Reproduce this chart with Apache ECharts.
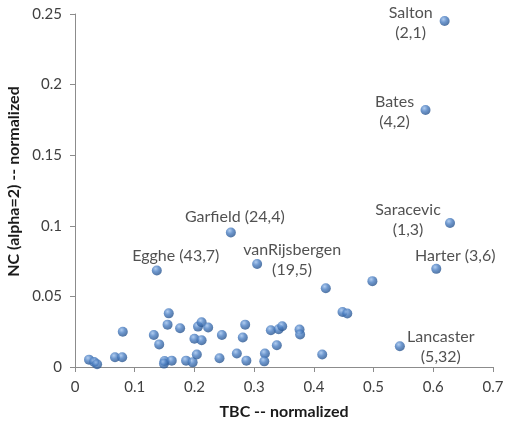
<!DOCTYPE html>
<html>
<head>
<meta charset="utf-8">
<script src="https://cdn.jsdelivr.net/npm/echarts@6/dist/echarts.min.js"></script>
<style>
  html, body { margin: 0; padding: 0; background: #fff; }
  #chart { width: 506px; height: 423px; }
</style>
</head>
<body>
<div id="chart"></div>
<script>
// unlabeled authors: TBC (x) and NC (y), both normalized
const tbc = [0.0235, 0.032, 0.037, 0.067, 0.079, 0.080, 0.132, 0.141, 0.157, 0.155,
  0.176, 0.150, 0.149, 0.162, 0.186, 0.197, 0.204, 0.200, 0.212, 0.206,
  0.212, 0.223, 0.246, 0.242, 0.271, 0.281, 0.285, 0.287, 0.318, 0.317,
  0.328, 0.341, 0.347, 0.338, 0.376, 0.377, 0.414, 0.420, 0.498, 0.448, 0.456];
const nc = [0.0052, 0.0035, 0.002, 0.0069, 0.0069, 0.025, 0.0227, 0.016, 0.038, 0.030,
  0.0275, 0.0043, 0.0024, 0.0045, 0.0045, 0.0033, 0.0088, 0.020, 0.019, 0.0286,
  0.0317, 0.028, 0.0227, 0.0062, 0.0095, 0.0209, 0.030, 0.0045, 0.0095, 0.004,
  0.026, 0.0267, 0.0289, 0.0154, 0.0265, 0.023, 0.0088, 0.0558, 0.0608, 0.039, 0.0379];

// named authors
const names = ['Salton', 'Bates', 'Saracevic', 'Harter', 'Garfield', 'Egghe', 'vanRijsbergen', 'Lancaster'];
const ranks = ['(2,1)', '(4,2)', '(1,3)', '(3,6)', '(24,4)', '(43,7)', '(19,5)', '(5,32)'];
const namedTbc = [0.619, 0.587, 0.628, 0.605, 0.261, 0.137, 0.305, 0.544];
const namedNc = [0.245, 0.182, 0.102, 0.0695, 0.0953, 0.0684, 0.073, 0.0147];

// label layout (pixels, relative to the marker) and whether the rank goes on a new line
const labelOffset = [[-34, 2], [-31, 2], [-42, -3], [19, -13], [4, -16], [19, -15], [35, -4], [41, 1]];
const twoLines = [true, true, true, false, false, false, true, true];

const ball = {
  type: 'radial', x: 0.38, y: 0.32, r: 0.7,
  colorStops: [
    { offset: 0, color: '#9dc0ec' },
    { offset: 0.45, color: '#4a7ec2' },
    { offset: 1, color: '#26528c' }
  ]
};

const plain = tbc.map((x, i) => [x, nc[i]]);
const named = names.map((n, i) => ({
  value: [namedTbc[i], namedNc[i]],
  label: {
    show: true,
    position: 'inside',
    align: 'center',
    verticalAlign: 'middle',
    offset: labelOffset[i],
    formatter: n + (twoLines[i] ? '\n' : ' ') + ranks[i]
  }
}));

const chart = echarts.init(document.getElementById('chart'));
const fontFamily = 'Lato, "Open Sans", sans-serif';

chart.setOption({
  animation: false,
  textStyle: { fontFamily },
  grid: { left: 75, right: 13, top: 14, bottom: 56, outerBoundsMode: 'none' },
  xAxis: {
    type: 'value',
    min: 0, max: 0.7, interval: 0.1,
    name: 'TBC -- normalized',
    nameLocation: 'middle',
    nameGap: 37,
    nameTextStyle: { fontWeight: 'bold', fontSize: 16, color: '#1a1a1a', fontFamily },
    axisLine: { show: true, lineStyle: { color: '#8c8c8c' } },
    axisTick: { show: true, length: 5, lineStyle: { color: '#8c8c8c' } },
    axisLabel: { fontSize: 15, color: '#404040', margin: 13, fontFamily },
    splitLine: { show: false }
  },
  yAxis: {
    type: 'value',
    min: 0, max: 0.25, interval: 0.05,
    name: 'NC (alpha=2) -- normalized',
    nameLocation: 'middle',
    nameGap: 48,
    nameTextStyle: { fontWeight: 'bold', fontSize: 16, color: '#1a1a1a', fontFamily, padding: [0, 0, 0, 18] },
    axisLine: { show: true, lineStyle: { color: '#8c8c8c' } },
    axisTick: { show: true, length: 5, lineStyle: { color: '#8c8c8c' } },
    axisLabel: { fontSize: 15, color: '#404040', margin: 13, fontFamily },
    splitLine: { show: false }
  },
  series: [
    {
      type: 'scatter',
      symbolSize: 10,
      itemStyle: { color: ball },
      data: plain
    },
    {
      type: 'scatter',
      symbolSize: 10,
      itemStyle: { color: ball },
      label: { fontSize: 16, lineHeight: 20, color: '#262626', fontFamily },
      data: named
    }
  ]
});
</script>
</body>
</html>
